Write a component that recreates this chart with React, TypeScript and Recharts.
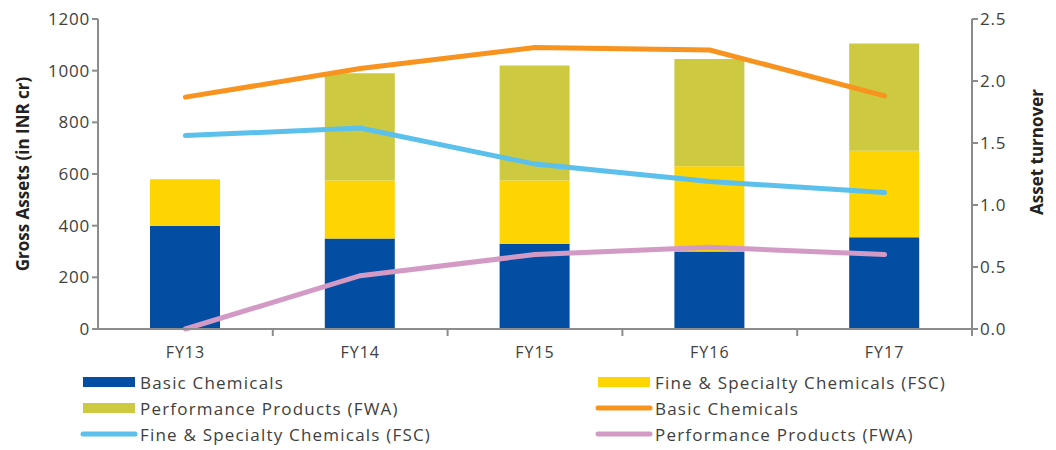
import { ComposedChart, Bar, Line, XAxis, YAxis } from 'recharts'

const years = ['FY13', 'FY14', 'FY15', 'FY16', 'FY17']

// gross assets, INR cr (stacked bars)
const basicAssets = [400, 350, 330, 300, 355]
const fscAssets = [180, 225, 245, 330, 335]
const fwaAssets = [0, 415, 445, 415, 415]

// asset turnover (lines, right axis)
const basicTurnover = [1.87, 2.1, 2.27, 2.25, 1.88]
const fscTurnover = [1.56, 1.62, 1.33, 1.19, 1.1]
const fwaTurnover = [0.0, 0.43, 0.6, 0.66, 0.6]

const leftTicks = [0, 200, 400, 600, 800, 1000, 1200]
const rightTicks = [0, 0.5, 1, 1.5, 2, 2.5]

const data = years.map((year, i) => ({
  year,
  basicAssets: basicAssets[i],
  fscAssets: fscAssets[i],
  fwaAssets: fwaAssets[i],
  basicTurnover: basicTurnover[i],
  fscTurnover: fscTurnover[i],
  fwaTurnover: fwaTurnover[i],
}))

const FONT = '"Open Sans", sans-serif'
const TEXT = '#404040'
const AXIS = '#8c8c8c'

const C = {
  blue: '#034ea2',
  yellow: '#ffd500',
  olive: '#cdca41',
  orange: '#f7931e',
  sky: '#5bc0eb',
  pink: '#d49ac6',
}

const legendItems = [
  { label: 'Basic Chemicals', color: C.blue, kind: 'bar' },
  { label: 'Fine & Specialty Chemicals (FSC)', color: C.yellow, kind: 'bar' },
  { label: 'Performance Products (FWA)', color: C.olive, kind: 'bar' },
  { label: 'Basic Chemicals', color: C.orange, kind: 'line' },
  { label: 'Fine & Specialty Chemicals (FSC)', color: C.sky, kind: 'line' },
  { label: 'Performance Products (FWA)', color: C.pink, kind: 'line' },
]

const PLOT_BOTTOM = 329
const HALF_BAND = (972 - 98) / years.length / 2

// category label plus a tick mark on the boundary to its right
function YearTick(props: any) {
  const { x, payload } = props
  return (
    <g>
      <line x1={x + HALF_BAND} x2={x + HALF_BAND} y1={PLOT_BOTTOM} y2={PLOT_BOTTOM + 7} stroke={AXIS} strokeWidth={2} />
      <text x={x} y={PLOT_BOTTOM + 29} textAnchor="middle" fill={TEXT} fontSize={16} letterSpacing={1} fontFamily={FONT}>
        {payload.value}
      </text>
    </g>
  )
}

// rotated axis title at a fixed spot (recharts overrides x/y on label elements)
function AxisTitle({ px, py, text }: { px: number; py: number; text: string }) {
  return (
    <text
      x={px}
      y={py}
      transform={`rotate(-90 ${px} ${py})`}
      textAnchor="middle"
      dominantBaseline="central"
      fill="#222"
      fontSize={17}
      fontWeight={700}
      fontFamily={FONT}
    >
      {text}
    </text>
  )
}

function ChartLegend() {
  return (
    <div
      style={{
        position: 'absolute',
        left: 80,
        top: 371,
        display: 'grid',
        gridTemplateColumns: '515px 400px',
        rowGap: 4,
        fontFamily: FONT,
        fontSize: 17,
        letterSpacing: 1.2,
        color: TEXT,
      }}
    >
      {legendItems.map((item, i) => (
        <div key={i} style={{ display: 'flex', alignItems: 'center', height: 22 }}>
          <svg width={58} height={12} style={{ marginRight: 2 }}>
            {item.kind === 'bar' ? (
              <rect x={3} y={1} width={52} height={10} fill={item.color} />
            ) : (
              <line x1={3} x2={55} y1={6} y2={6} stroke={item.color} strokeWidth={5} strokeLinecap="round" />
            )}
          </svg>
          <span>{item.label}</span>
        </div>
      ))}
    </div>
  )
}

const tickStyle = { fill: TEXT, fontSize: 17, fontFamily: FONT, letterSpacing: 0.8 }

export default function App() {
  return (
    <div style={{ position: 'absolute', left: 0, top: 0, width: 1056, height: 450, background: '#fff' }}>
      <ComposedChart width={1056} height={450} data={data} margin={{ top: 19, right: 0, bottom: 92, left: 0 }}>
        <XAxis
          dataKey="year"
          height={29}
          tick={<YearTick />}
          tickLine={false}
          axisLine={{ stroke: AXIS, strokeWidth: 2 }}
        />
        <YAxis
          yAxisId="left"
          width={98}
          domain={[0, 1200]}
          ticks={leftTicks}
          tickSize={6}
          tick={tickStyle}
          tickLine={{ stroke: AXIS, strokeWidth: 2 }}
          axisLine={{ stroke: AXIS, strokeWidth: 2 }}
          label={<AxisTitle px={22} py={174} text="Gross Assets (in INR cr)" />}
        />
        <YAxis
          yAxisId="right"
          orientation="right"
          width={84}
          domain={[0, 2.5]}
          ticks={rightTicks}
          tickFormatter={(v: number) => v.toFixed(1)}
          tickSize={6}
          tick={tickStyle}
          tickLine={{ stroke: AXIS, strokeWidth: 2 }}
          axisLine={{ stroke: AXIS, strokeWidth: 2 }}
          label={<AxisTitle px={1036} py={152} text="Asset turnover" />}
        />
        <Bar yAxisId="left" dataKey="basicAssets" stackId="a" fill={C.blue} barSize={70} isAnimationActive={false} />
        <Bar yAxisId="left" dataKey="fscAssets" stackId="a" fill={C.yellow} barSize={70} isAnimationActive={false} />
        <Bar yAxisId="left" dataKey="fwaAssets" stackId="a" fill={C.olive} barSize={70} isAnimationActive={false} />
        <Line yAxisId="right" dataKey="basicTurnover" stroke={C.orange} strokeWidth={5} strokeLinecap="round" dot={false} isAnimationActive={false} />
        <Line yAxisId="right" dataKey="fscTurnover" stroke={C.sky} strokeWidth={5} strokeLinecap="round" dot={false} isAnimationActive={false} />
        <Line yAxisId="right" dataKey="fwaTurnover" stroke={C.pink} strokeWidth={5} strokeLinecap="round" dot={false} isAnimationActive={false} />
      </ComposedChart>
      <ChartLegend />
    </div>
  )
}
